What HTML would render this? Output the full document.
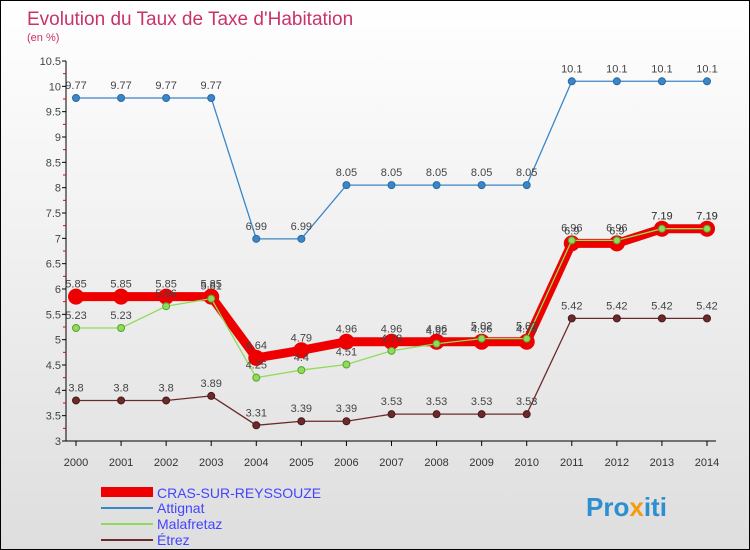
<!DOCTYPE html>
<html><head><meta charset="utf-8"><style>
body{margin:0}
#c{width:748px;height:548px;border:1px solid #000;position:relative;background:linear-gradient(#fff,#dedede);font-family:"Liberation Sans",sans-serif;overflow:hidden}
</style></head><body>
<div id="c">
<svg id="s" width="748" height="548" xmlns="http://www.w3.org/2000/svg">
<text x="26" y="24" font-size="19" fill="#c8336b">Evolution du Taux de Taxe d'Habitation</text>
<text x="26" y="40" font-size="11" fill="#c8336b">(en %)</text>
<g id="ax"></g><g id="series"></g>
<g>
<rect x="100" y="486" width="52" height="10" fill="#e00"/>
<text x="156" y="497" font-size="14" fill="#44f">CRAS-SUR-REYSSOUZE</text>
<line x1="100" y1="507" x2="152" y2="507" stroke="#3a86c8" stroke-width="2"/>
<text x="156" y="512" font-size="14" fill="#44f">Attignat</text>
<line x1="100" y1="523" x2="152" y2="523" stroke="#8edc5a" stroke-width="2"/>
<text x="156" y="528" font-size="14" fill="#44f">Malafretaz</text>
<line x1="100" y1="539" x2="152" y2="539" stroke="#6b2a2a" stroke-width="2"/>
<text x="156" y="544" font-size="14" fill="#44f">Étrez</text>
</g>
<text x="585" y="515" font-size="26" font-weight="bold" fill="#2b8fd0">Pro<tspan fill="#f39c12">x</tspan>iti</text>
</svg></div>
<script>
const years=[2000,2001,2002,2003,2004,2005,2006,2007,2008,2009,2010,2011,2012,2013,2014];
const yTicks=[3,3.5,4,4.5,5,5.5,6,6.5,7,7.5,8,8.5,9,9.5,10,10.5];
const attignat=[9.77,9.77,9.77,9.77,6.99,6.99,8.05,8.05,8.05,8.05,8.05,10.1,10.1,10.1,10.1];
const malafretaz=[5.23,5.23,5.66,5.81,4.25,4.4,4.51,4.78,4.92,5.02,5.02,6.96,6.96,7.19,7.19];
const etrez=[3.8,3.8,3.8,3.89,3.31,3.39,3.39,3.53,3.53,3.53,3.53,5.42,5.42,5.42,5.42];
const cras=[5.85,5.85,5.85,5.85,4.64,4.79,4.96,4.96,4.96,4.96,4.96,6.9,6.9,7.19,7.19];
const NS="http://www.w3.org/2000/svg";
const X=i=>75+i*(631/14);
const Y=v=>440-(v-3)*(380/7.5);
function el(t,a,p){const e=document.createElementNS(NS,t);for(const k in a)e.setAttribute(k,a[k]);p.appendChild(e);return e;}
const ax=document.getElementById('ax');
const yl=el('line',{x1:65,y1:60,x2:65,y2:440,stroke:'#000'},ax);


yTicks.forEach(v=>{
 el('line',{x1:61,y1:Y(v),x2:65,y2:Y(v),stroke:'#000'},ax);
 el('line',{x1:62,y1:Y(v+0.25),x2:65,y2:Y(v+0.25),stroke:v<10.5?'#e00':'none'},ax);
 const t=el('text',{x:60,y:Y(v)+4,'font-size':11,fill:'#444','text-anchor':'end'},ax);t.textContent=String(v);
 
 
});
const xl=el('line',{x1:65,y1:440,x2:715,y2:440,stroke:'#000'},ax);


years.forEach((y,i)=>{
 el('line',{x1:X(i),y1:440,x2:X(i),y2:445,stroke:'#000'},ax);
 const t=el('text',{x:X(i),y:465,'font-size':11,fill:'#333','text-anchor':'middle'},ax);t.textContent=y;
 
 
});
const sg=document.getElementById('series');
function draw(name,vals,color,w,r,fill,stroke){
 const g=el('g',{},sg);
 
 
 const pl=el('polyline',{points:vals.map((v,i)=>X(i)+','+Y(v)).join(' '),fill:'none',stroke:color,'stroke-width':w},g);
 
 
 vals.forEach((v,i)=>{
  const c=el('circle',{cx:X(i),cy:Y(v),r:r,fill:fill,stroke:stroke,'stroke-width':1},g);
  
  
  const t=el('text',{x:X(i),y:Y(v)-9,'font-size':11,fill:'#444','text-anchor':'middle'},g);t.textContent=String(v);
  
  
 });
}
draw('attignat',attignat,'#3a86c8',1.3,3.5,'#3a86c8','#2a6aa0');
draw('etrez',etrez,'#6b2a2a',1.3,3.5,'#6b2a2a','#4a1a1a');
draw('cras',cras,'#e00',9,7.5,'#e00','#e00');
draw('malafretaz',malafretaz,'#8edc5a',1.3,3.5,'#8edc5a','#5aa030');
</script>
</body></html>
